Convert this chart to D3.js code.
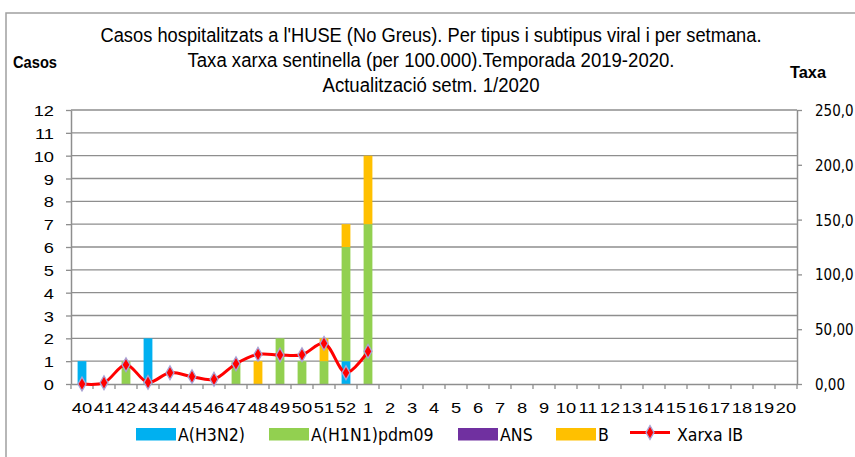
<!DOCTYPE html>
<html>
<head>
<meta charset="utf-8">
<script src="https://cdn.jsdelivr.net/npm/d3@7"></script>
<style>
  html, body { margin: 0; padding: 0; background: #fff; }
  svg { display: block; }
</style>
</head>
<body>
<svg id="chart" width="855" height="457"></svg>
<script>
// ---------- DATA ----------
const weeks = ["40","41","42","43","44","45","46","47","48","49","50","51","52",
               "1","2","3","4","5","6","7","8","9","10","11","12","13","14","15","16","17","18","19","20"];
const h3n2   = [1,0,0,2,0,0,0,0,0,0,0,0,1, 0,0,0,0,0,0,0,0,0,0,0,0,0,0,0,0,0,0,0,0];
const h1n1   = [0,0,1,0,0,0,0,1,0,2,1,1,5, 7,0,0,0,0,0,0,0,0,0,0,0,0,0,0,0,0,0,0,0];
const ans    = [0,0,0,0,0,0,0,0,0,0,0,0,0, 0,0,0,0,0,0,0,0,0,0,0,0,0,0,0,0,0,0,0,0];
const bVir   = [0,0,0,0,0,0,0,0,1,0,0,1,1, 3,0,0,0,0,0,0,0,0,0,0,0,0,0,0,0,0,0,0,0];
const xarxaWeeks = ["40","41","42","43","44","45","46","47","48","49","50","51","52","1"];
const xarxaIB    = [0,1.2,17.6,1.5,10.3,6.7,4.3,18.5,27.1,26.5,26.7,37.1,10.3,29.8];
const leftTicks  = [0,1,2,3,4,5,6,7,8,9,10,11,12];
const rightTicks = [0,50,100,150,200,250];
const rightTickLabels = ["0,00","50,00","100,0","150,0","200,0","250,0"];
const seriesNames  = ["A(H3N2)","A(H1N1)pdm09","ANS","B"];
const lineName     = "Xarxa IB";
const titleLines = [
  "Casos hospitalitzats a l'HUSE (No Greus). Per tipus i subtipus viral i per setmana.",
  "Taxa xarxa sentinella (per 100.000).Temporada 2019-2020.",
  "Actualització setm. 1/2020"
];
const leftAxisTitle = "Casos";
const rightAxisTitle = "Taxa";

// ---------- STYLE ----------
const colors = ["#00B0F0","#92D050","#7030A0","#FFC000"];
const gridColor = "#8e8e8e";
const plot = {left: 71, right: 797, top: 110, bottom: 384};

const svg = d3.select("#chart");

// outer frame
svg.append("rect").attr("x", 6).attr("y", 13).attr("width", 900).attr("height", 500)
  .attr("fill", "none").attr("stroke", "#a0a0a0").attr("stroke-width", 1.5);

// scales
const x = d3.scaleBand().domain(weeks).range([plot.left, plot.right]).padding(0);
const y = d3.scaleLinear().domain([0, 12]).range([plot.bottom, plot.top]);
const y2 = d3.scaleLinear().domain([0, 250]).range([plot.bottom, plot.top]);

// gridlines
svg.append("g").selectAll("line").data(leftTicks.filter(d => d > 0)).join("line")
  .attr("x1", plot.left).attr("x2", plot.right)
  .attr("y1", d => y(d)).attr("y2", d => y(d))
  .attr("stroke", gridColor).attr("stroke-width", 1.3);

// stacked bars
const table = weeks.map((w, i) => ({week: w, s0: h3n2[i], s1: h1n1[i], s2: ans[i], s3: bVir[i]}));
const stack = d3.stack().keys(["s0","s1","s2","s3"])(table);
const bw = x.bandwidth() * 0.4;
svg.append("g").selectAll("g").data(stack).join("g")
  .attr("fill", (d, i) => colors[i])
  .selectAll("rect").data(d => d.filter(v => v[1] - v[0] > 0)).join("rect")
  .attr("x", d => x(d.data.week) + (x.bandwidth() - bw) / 2)
  .attr("width", bw)
  .attr("y", d => y(d[1]))
  .attr("height", d => y(d[0]) - y(d[1]));

// left axis
const gl = svg.append("g").attr("transform", `translate(${plot.left},0)`)
  .call(d3.axisLeft(y).tickValues(leftTicks).tickSize(5).tickSizeOuter(0));
gl.select(".domain").attr("stroke", gridColor).attr("stroke-width", 1.5);
gl.selectAll(".tick line").attr("stroke", gridColor).attr("stroke-width", 1.3);
gl.selectAll(".tick text")
  .attr("font-family", "'Liberation Sans', Arial, sans-serif").attr("font-size", 15.5)
  .attr("fill", "#000").attr("x", 0).attr("dy", 0)
  .attr("transform", "translate(-17,5.5) scale(1.18,1)");

// right axis
const gr = svg.append("g").attr("transform", `translate(${plot.right},0)`)
  .call(d3.axisRight(y2).tickValues(rightTicks).tickFormat((d, i) => rightTickLabels[i]).tickSize(5).tickSizeOuter(0));
gr.select(".domain").attr("stroke", gridColor).attr("stroke-width", 1.5);
gr.selectAll(".tick line").attr("stroke", gridColor).attr("stroke-width", 1.3);
gr.selectAll(".tick text")
  .attr("font-family", "'DejaVu Sans', Verdana, sans-serif").attr("font-size", 15)
  .attr("fill", "#000").attr("x", 0).attr("dy", 0)
  .attr("transform", "translate(18,5.5) scale(0.9,1)");

// bottom axis
const gb = svg.append("g").attr("transform", `translate(0,${plot.bottom})`)
  .call(d3.axisBottom(x).tickSize(0).tickSizeOuter(0));
gb.select(".domain").attr("stroke", gridColor).attr("stroke-width", 1.5);
gb.selectAll(".tick text")
  .attr("font-family", "'Liberation Sans', Arial, sans-serif").attr("font-size", 15.5)
  .attr("fill", "#000").attr("y", 0).attr("dy", 0)
  .attr("transform", "translate(0,29) scale(1.18,1)");
// boundary ticks
const bounds = weeks.map(w => x(w)).concat([x(weeks[weeks.length - 1]) + x.bandwidth()]);
gb.append("g").selectAll("line").data(bounds).join("line")
  .attr("x1", d => d).attr("x2", d => d).attr("y1", 0).attr("y2", 5)
  .attr("stroke", gridColor).attr("stroke-width", 1.3);

// line series
const pts = xarxaWeeks.map((w, i) => [x(w) + x.bandwidth() / 2, y2(xarxaIB[i])]);
svg.append("path").datum(pts)
  .attr("d", d3.line().curve(d3.curveCatmullRom.alpha(0.5)))
  .attr("fill", "none").attr("stroke", "#FF0000").attr("stroke-width", 3);
const diamond = d3.symbol().type(d3.symbolDiamond).size(55);
svg.append("g").selectAll("path").data(pts).join("path")
  .attr("d", diamond)
  .attr("transform", d => `translate(${d[0]},${d[1]})`)
  .attr("fill", "#FF0000").attr("stroke", "#a9a3d6").attr("stroke-width", 1.3);

// titles
const tl = [[42, 661], [67, 487], [92, 217]];
svg.append("g").selectAll("text").data(titleLines).join("text")
  .attr("x", 431).attr("y", (d, i) => tl[i][0])
  .attr("text-anchor", "middle")
  .attr("textLength", (d, i) => tl[i][1]).attr("lengthAdjust", "spacingAndGlyphs")
  .attr("font-family", "'Liberation Sans', Arial, sans-serif").attr("font-size", 19.5)
  .attr("fill", "#000").text(d => d);

svg.append("text").attr("x", 13).attr("y", 68)
  .attr("textLength", 44).attr("lengthAdjust", "spacingAndGlyphs")
  .attr("font-family", "'Liberation Sans', Arial, sans-serif").attr("font-size", 17)
  .attr("font-weight", "bold").attr("fill", "#000").text(leftAxisTitle);
svg.append("text").attr("x", 790).attr("y", 78)
  .attr("textLength", 36).attr("lengthAdjust", "spacingAndGlyphs")
  .attr("font-family", "'Liberation Sans', Arial, sans-serif").attr("font-size", 17)
  .attr("font-weight", "bold").attr("fill", "#000").text(rightAxisTitle);

// legend
const legX = [136, 269, 458, 556];
const leg = svg.append("g");
seriesNames.forEach((name, i) => {
  leg.append("rect").attr("x", legX[i]).attr("y", 428).attr("width", 40).attr("height", 12.5)
    .attr("fill", colors[i]);
  leg.append("text").attr("transform", `translate(${legX[i] + 42},441) scale(0.93,1)`)
    .attr("font-family", "'DejaVu Sans', Verdana, sans-serif").attr("font-size", 17)
    .attr("fill", "#000").text(name);
});
leg.append("line").attr("x1", 630).attr("x2", 670).attr("y1", 432.5).attr("y2", 432.5)
  .attr("stroke", "#FF0000").attr("stroke-width", 3);
leg.append("path").attr("d", diamond).attr("transform", "translate(650,432.5)")
  .attr("fill", "#FF0000").attr("stroke", "#a9a3d6").attr("stroke-width", 1.3);
leg.append("text").attr("transform", "translate(677,441) scale(0.93,1)")
  .attr("font-family", "'DejaVu Sans', Verdana, sans-serif").attr("font-size", 17)
  .attr("fill", "#000").text(lineName);
</script>
</body>
</html>
